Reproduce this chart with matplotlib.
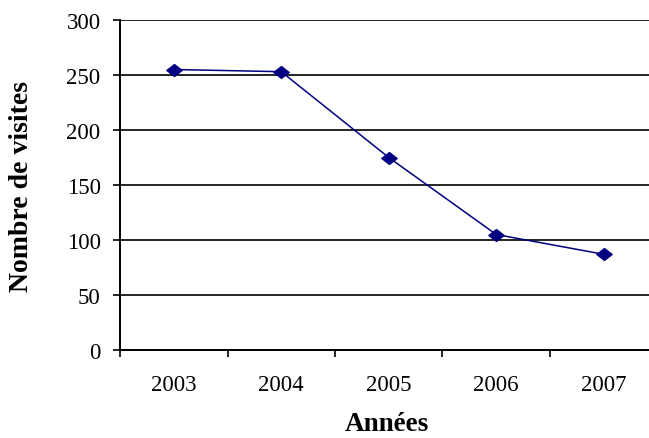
import matplotlib
matplotlib.use("Agg")
import matplotlib.pyplot as plt
from matplotlib.path import Path
from matplotlib.ticker import FixedLocator, NullFormatter

# Data
years = ["2003", "2004", "2005", "2006", "2007"]
visits = [255, 253, 175, 105, 87]
y_ticks = [0, 50, 100, 150, 200, 250, 300]

plt.rcParams["font.family"] = ["Liberation Serif", "DejaVu Serif"]

W, H = 649, 439
fig = plt.figure(figsize=(W / 100, H / 100), dpi=100)
fig.patch.set_facecolor("white")

# plot area (the category axis runs slightly past the right edge)
left, right, top, bottom = 120, 657.5, 21, 351
ax = fig.add_axes([left / W, 1 - bottom / H, (right - left) / W, (bottom - top) / H])

x = list(range(len(years)))

# wide, flat diamond marker
diamond = Path([(-1, 0), (0, 0.78), (1, 0), (0, -0.78), (-1, 0)],
               [Path.MOVETO, Path.LINETO, Path.LINETO, Path.LINETO, Path.CLOSEPOLY])

ax.plot(x, visits, color="#000080", lw=1.1, marker=diamond, markersize=11,
        markerfacecolor="#000080", markeredgecolor="#000080", zorder=3, clip_on=False)

ax.set_xlim(-0.5, len(years) - 0.5)
ax.set_ylim(0, 300)

# horizontal gridlines
ax.set_yticks(y_ticks)
ax.yaxis.grid(True, color="black", lw=1.2)
ax.set_axisbelow(True)

# categories labelled at centres, tick marks at boundaries
ax.set_xticks(x)
ax.set_xticklabels(years)
ax.xaxis.set_minor_locator(FixedLocator([i - 0.5 for i in range(len(years) + 1)]))
ax.xaxis.set_minor_formatter(NullFormatter())
ax.tick_params(axis="x", which="major", length=0, pad=17, labelsize=16.5)
ax.tick_params(axis="x", which="minor", length=5, width=1.2, direction="out", color="black")
ax.tick_params(axis="y", length=5, width=1.2, direction="out", pad=9, labelsize=16.5)

for s in ("top", "right"):
    ax.spines[s].set_visible(False)
for s in ("left", "bottom"):
    ax.spines[s].set_linewidth(1.4)
    ax.spines[s].set_color("black")

fig.text(22 / W, 1 - 186 / H, "Nombre de visites", rotation=90, fontsize=20,
         fontweight="bold", ha="center", va="center")
fig.text(387 / W, 1 - 425 / H, "Années", fontsize=19.5, fontweight="bold",
         ha="center", va="center")

fig.savefig("out.png", dpi=100, facecolor="white")
